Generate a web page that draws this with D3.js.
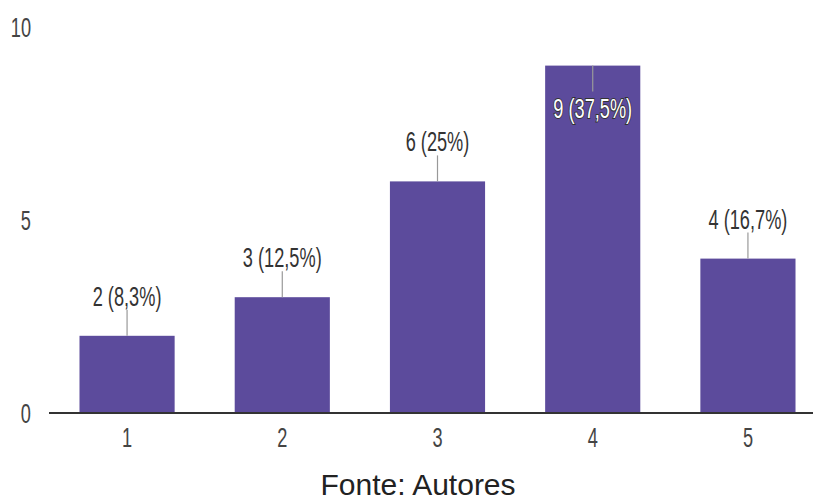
<!DOCTYPE html>
<html>
<head>
<meta charset="utf-8">
<script src="https://cdn.jsdelivr.net/npm/d3@7"></script>
<style>
  body { margin: 0; background: #fff; }
  svg { display: block; }
</style>
</head>
<body>
<div id="chart"></div>
<script>
const categories = ['1', '2', '3', '4', '5'];
const counts = [2, 3, 6, 9, 4];
const percents = ['8,3%', '12,5%', '25%', '37,5%', '16,7%'];
const yTicks = [0, 5, 10];

const width = 813, height = 502;
const squish = 0.65;

const svg = d3.select('#chart').append('svg')
    .attr('width', width)
    .attr('height', height);

const x = d3.scaleBand()
    .domain(categories)
    .range([50, 825])
    .paddingInner(0.387)
    .paddingOuter(0.19);

const y = d3.scaleLinear()
    .domain([0, 10])
    .range([413, 27]);

// y labels
svg.selectAll('.ylab')
    .data(yTicks)
    .enter().append('text')
    .attr('class', 'ylab')
    .attr('transform', d => 'translate(' + 31 + ',' + (y(d) + 10) + ') scale(' + squish + ',1)')
    .attr('text-anchor', 'end')
    .style('font-family', 'Liberation Sans, Arial, sans-serif')
    .style('font-size', '28px')
    .style('fill', '#444')
    .text(d => d);

const data = categories.map((c, i) => ({ cat: c, v: counts[i], pct: percents[i] }));

// bars
svg.selectAll('.bar')
    .data(data)
    .enter().append('rect')
    .attr('class', 'bar')
    .attr('x', d => x(d.cat))
    .attr('y', d => y(d.v))
    .attr('width', x.bandwidth())
    .attr('height', d => y(0) - y(d.v))
    .style('fill', '#5c4b9c');

// axis line
svg.append('line')
    .attr('x1', 49).attr('x2', width)
    .attr('y1', y(0)).attr('y2', y(0))
    .style('stroke', '#333')
    .style('stroke-width', 2);

// x labels
svg.selectAll('.xlab')
    .data(categories)
    .enter().append('text')
    .attr('class', 'xlab')
    .attr('transform', d => 'translate(' + (x(d) + x.bandwidth() / 2) + ',447) scale(' + squish + ',1)')
    .attr('text-anchor', 'middle')
    .style('font-family', 'Liberation Sans, Arial, sans-serif')
    .style('font-size', '28px')
    .style('fill', '#444')
    .text(d => d);

// value labels with leader lines
const maxV = d3.max(counts);
const lab = svg.selectAll('.vlab')
    .data(data)
    .enter().append('g')
    .attr('class', 'vlab');

lab.append('line')
    .attr('x1', d => x(d.cat) + x.bandwidth() / 2)
    .attr('x2', d => x(d.cat) + x.bandwidth() / 2)
    .attr('y1', d => y(d.v))
    .attr('y2', d => d.v === maxV ? y(d.v) + 26 : y(d.v) - 26)
    .style('stroke', '#999')
    .style('stroke-width', 1.2);

lab.append('text')
    .attr('transform', d => {
        const cx = x(d.cat) + x.bandwidth() / 2;
        const by = d.v === maxV ? y(d.v) + 52 : y(d.v) - 30;
        return 'translate(' + cx + ',' + by + ') scale(' + squish + ',1)';
    })
    .attr('text-anchor', 'middle')
    .style('font-family', 'Liberation Sans, Arial, sans-serif')
    .style('font-size', '28px')
    .style('fill', d => d.v === maxV ? '#fff' : '#333')
    .style('stroke', d => d.v === maxV ? '#333' : 'none')
    .style('stroke-width', 2)
    .style('paint-order', 'stroke')
    .text(d => d.v + ' (' + d.pct + ')');

// footer
svg.append('text')
    .attr('x', 418)
    .attr('y', 495)
    .attr('text-anchor', 'middle')
    .style('font-family', 'Liberation Sans, Arial, sans-serif')
    .style('font-size', '30px')
    .style('fill', '#222')
    .text('Fonte: Autores');
</script>
</body>
</html>
